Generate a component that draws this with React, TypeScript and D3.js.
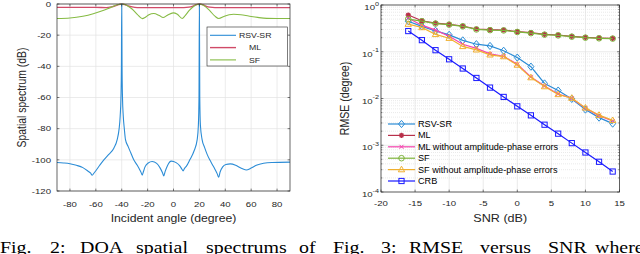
import React from 'react';
import * as d3 from 'd3';

const SX = 1.2;
const SANS = 'Liberation Sans, Arial, Helvetica, sans-serif';
const SERIF = 'Liberation Serif, Times New Roman, serif';

// ---------- Fig. 2 data (spatial spectrum) ----------
const angleTicks = [-80, -60, -40, -20, 0, 20, 40, 60, 80];
const dbTicks = [0, -20, -40, -60, -80, -100, -120];

const rsvAngles = [-90, -85, -80, -75, -70, -66, -64, -62.8, -61.5, -60, -57, -53.8, -50, -46.1, -43.5, -42, -41.2, -40.6, -40.25, -40, -39.75, -39.4, -38.8, -38, -37.1, -35, -33, -30.7, -28, -26, -25, -24.2, -23.2, -22, -19.5, -16.5, -13, -10.5, -8.5, -7.5, -6.5, -4.5, -1.8, 2, 5, 6.5, 7.4, 8.5, 10, 12.6, 16, 18.3, 19.2, 19.7, 20, 20.3, 20.8, 22.1, 24, 26, 28, 30, 32, 33.8, 34.9, 36, 38, 40.5, 43.9, 48, 52, 56.1, 60, 64, 69.6, 76, 90];
const rsvDb = [-101.7, -102, -102.5, -103.5, -105, -107.3, -108.6, -109.9, -108.6, -107, -103.5, -100, -96.5, -92.5, -87, -80, -72, -60, -40, 0, -40, -60, -72, -80, -87, -91.5, -95.5, -100, -103.5, -106.5, -108.2, -109.8, -107.5, -104.5, -102, -101.1, -102.3, -105, -108.3, -110.3, -107.6, -103.4, -100.8, -101.8, -104, -106, -107.1, -105.5, -104, -100, -94, -87, -78, -60, 0, -60, -78, -87, -92, -96.5, -100, -103, -106, -109, -111.2, -107.8, -104.5, -103, -102.6, -103.5, -105.3, -106.5, -105.3, -103.5, -102.2, -101.7, -101.5];

const mlAngles = [-90, -60, -52, -48, -45, -42.5, -40, -37.5, -35, -32, -28, -20, 0, 8, 12, 15, 17.5, 20, 22.5, 25, 28, 32, 60, 90];
const mlDb = [-2.2, -2.2, -2.3, -1.9, -1.2, -0.4, 0, -0.4, -1.2, -1.9, -2.3, -2.3, -2.3, -2.3, -2.0, -1.3, -0.4, 0, -0.4, -1.3, -2.0, -2.3, -2.3, -2.3];

const sfAngles = [-90, -80, -70, -62, -55, -48, -44, -40, -36, -32, -28, -24, -22, -19, -15.2, -11, -8, -5, -0.3, 3, 6.7, 9, 12, 16, 20, 24, 28, 32, 35, 39, 43, 46.5, 52, 58, 65, 72, 80, 90];
const sfDb = [-9.3, -9.0, -7.9, -6.3, -4.4, -2.0, -0.7, 0, -0.9, -3.2, -6.6, -9.4, -8.7, -6.9, -6.1, -7.4, -8.7, -7.4, -5.7, -6.6, -9.3, -7.5, -4.3, -1.3, 0, -1.3, -4.3, -7.8, -9.3, -8.0, -6.9, -6.6, -6.9, -7.7, -8.6, -9.2, -9.3, -9.3];

// ---------- Fig. 3 data (RMSE vs SNR) ----------
const snrTicks = [-20, -15, -10, -5, 0, 5, 10, 15];
const rmseExps = [0, -1, -2, -3, -4];
const snr = [-16, -14, -12, -10, -8, -6, -4, -2, 0, 2, 4, 6, 8, 10, 12, 14];
const rmseRSV = [0.45, 0.35, 0.28, 0.23, 0.175, 0.145, 0.133, 0.105, 0.075, 0.048, 0.021, 0.0148, 0.0098, 0.0058, 0.0039, 0.0029];
const rmseML = [0.61, 0.46, 0.41, 0.385, 0.355, 0.307, 0.296, 0.292, 0.27, 0.256, 0.236, 0.228, 0.214, 0.203, 0.197, 0.194];
const rmseMLw = [0.52, 0.37, 0.29, 0.215, 0.145, 0.118, 0.09, 0.08, 0.054, 0.029, 0.0185, 0.0125, 0.0101, 0.0062, 0.0043, 0.0033];
const rmseSF = [0.5, 0.45, 0.4, 0.38, 0.35, 0.3, 0.29, 0.286, 0.265, 0.25, 0.232, 0.224, 0.21, 0.2, 0.194, 0.191];
const rmseSFw = [0.39, 0.33, 0.235, 0.195, 0.13, 0.11, 0.086, 0.079, 0.052, 0.028, 0.018, 0.0122, 0.0102, 0.0063, 0.0044, 0.0034];
const rmseCRB = [0.277, 0.177, 0.108, 0.069, 0.0438, 0.0275, 0.0171, 0.0108, 0.0068, 0.00436, 0.00275, 0.00177, 0.00111, 0.0007, 0.000443, 0.000274];

const leftLegend = ['RSV-SR', 'ML', 'SF'];
const rightLegend = ['RSV-SR', 'ML', 'ML without amplitude-phase errors', 'SF', 'SF without amplitude-phase errors', 'CRB'];

const captionLeft = ['Fig.', '2:', 'DOA', 'spatial', 'spectrums', 'of'];
const captionRight = ['Fig.', '3:', 'RMSE', 'versus', 'SNR', 'where'];
const captionLeftX = [0, 50, 80, 136, 206, 299];
const captionRightX = [333, 381, 409, 480, 548, 595];

const C_RSV = '#2b8cd6';
const C_ML = '#b8304a';
const C_MLW = '#f545b0';
const C_SF = '#7db33a';
const C_SFW = '#f0b030';
const C_CRB = '#1a1aff';
const AX = '#262626';

type TP = { x: number; y: number; size: number; anchor?: string; rot?: number; family?: string; fill?: string; children: React.ReactNode; dy?: string; sx?: number };
function T({ x, y, size, anchor = 'start', rot, family = SANS, fill = '#262626', children, dy, sx = SX }: TP) {
  return (
    <text
      transform={`translate(${x},${y}) scale(${sx},1)${rot ? ` rotate(${rot})` : ''}`}
      fontSize={size}
      fontFamily={family}
      textAnchor={anchor as any}
      fill={fill}
      dy={dy}
    >
      {children}
    </text>
  );
}

function Marker({ kind, color, x, y }: { kind: string; color: string; x: number; y: number }) {
  const t = `translate(${x},${y})`;
  if (kind === 'diamond') return <path transform={t} d="M0,-3.6L3,0L0,3.6L-3,0Z" fill="none" stroke={color} strokeWidth={1} />;
  if (kind === 'star')
    return (
      <path transform={t} d="M-2.6,0H2.6M0,-2.6V2.6M-1.9,-1.9L1.9,1.9M-1.9,1.9L1.9,-1.9" stroke={color} strokeWidth={1.4} />
    );
  if (kind === 'x') return <path transform={t} d="M-2,-2L2,2M-2,2L2,-2" stroke={color} strokeWidth={1} />;
  if (kind === 'circle') return <circle cx={x} cy={y} r={2.8} fill="none" stroke={color} strokeWidth={1} />;
  if (kind === 'triangle') return <path transform={t} d="M0,-3.4L3.2,2.2L-3.2,2.2Z" fill="none" stroke={color} strokeWidth={1} />;
  return <rect x={x - 2.6} y={y - 2.6} width={5.2} height={5.2} fill="none" stroke={color} strokeWidth={1} />;
}

export default function App() {
  // ---------- left chart ----------
  const L = { x0: 57, x1: 290, y0: 4, y1: 191 };
  const xL = d3.scaleLinear().domain([-90, 90]).range([L.x0, L.x1]);
  const yL = d3.scaleLinear().domain([-120, 0]).range([L.y1, L.y0]);
  const lineL = d3
    .line<[number, number]>()
    .x((d) => xL(d[0]))
    .y((d) => yL(d[1]))
    .curve(d3.curveMonotoneX);
  const zip = (a: number[], b: number[]) => a.map((v, i) => [v, b[i]] as [number, number]);

  // ---------- right chart ----------
  const R = { x0: 381, x1: 619.5, y0: 5, y1: 192 };
  const xR = d3.scaleLinear().domain([-20, 15]).range([R.x0, R.x1]);
  const yR = d3.scaleLog().domain([1e-4, 1]).range([R.y1, R.y0]);
  const lineR = d3
    .line<[number, number]>()
    .x((d) => xR(d[0]))
    .y((d) => yR(d[1]));

  const minorVals: number[] = [];
  for (let e = -4; e < 0; e++) for (let m = 2; m <= 9; m++) minorVals.push(m * Math.pow(10, e));

  const series = [
    { name: rightLegend[0], vals: rmseRSV, color: C_RSV, marker: 'diamond' },
    { name: rightLegend[1], vals: rmseML, color: C_ML, marker: 'star' },
    { name: rightLegend[2], vals: rmseMLw, color: C_MLW, marker: 'x' },
    { name: rightLegend[3], vals: rmseSF, color: C_SF, marker: 'circle' },
    { name: rightLegend[4], vals: rmseSFw, color: C_SFW, marker: 'triangle' },
    { name: rightLegend[5], vals: rmseCRB, color: C_CRB, marker: 'square' },
  ];

  const tk = 2.4;

  return (
    <svg width={640} height={254} style={{ position: 'absolute', left: 0, top: 0, background: '#fff' }}>
      <rect x={0} y={0} width={640} height={254} fill="#fff" />
      {/* ================= LEFT ================= */}
      <g>
        {angleTicks.map((t) => (
          <line key={'gx' + t} x1={xL(t)} x2={xL(t)} y1={L.y0} y2={L.y1} stroke="#e2e2e2" strokeWidth={0.7} />
        ))}
        {dbTicks.map((t) => (
          <line key={'gy' + t} x1={L.x0} x2={L.x1} y1={yL(t)} y2={yL(t)} stroke="#e2e2e2" strokeWidth={0.7} />
        ))}
        <path d={lineL(zip(mlAngles, mlDb)) || ''} fill="none" stroke="#d04a68" strokeWidth={1.3} />
        <path d={lineL(zip(sfAngles, sfDb)) || ''} fill="none" stroke="#86bb44" strokeWidth={1.1} />
        <path d={lineL(zip(rsvAngles, rsvDb)) || ''} fill="none" stroke={C_RSV} strokeWidth={1.1} />
        {/* axes box */}
        <rect x={L.x0} y={L.y0} width={L.x1 - L.x0} height={L.y1 - L.y0} fill="none" stroke={AX} strokeWidth={0.7} />
        {angleTicks.map((t) => (
          <g key={'tx' + t}>
            <line x1={xL(t)} x2={xL(t)} y1={L.y1} y2={L.y1 - tk} stroke={AX} strokeWidth={0.6} />
            <line x1={xL(t)} x2={xL(t)} y1={L.y0} y2={L.y0 + tk} stroke={AX} strokeWidth={0.6} />
            <T x={xL(t)} y={207} size={8} anchor="middle">{String(t)}</T>
          </g>
        ))}
        {dbTicks.map((t) => (
          <g key={'ty' + t}>
            <line x1={L.x0} x2={L.x0 + tk} y1={yL(t)} y2={yL(t)} stroke={AX} strokeWidth={0.6} />
            <line x1={L.x1} x2={L.x1 - tk} y1={yL(t)} y2={yL(t)} stroke={AX} strokeWidth={0.6} />
            <T x={51} y={yL(t)} size={8} anchor="end" dy="0.35em">{String(t)}</T>
          </g>
        ))}
        <T x={(L.x0 + L.x1) / 2} y={222} size={10.2} anchor="middle">Incident angle (degree)</T>
        <T x={26} y={(L.y0 + L.y1) / 2} size={10.4} anchor="middle" rot={-90}>Spatial spectrum (dB)</T>
        {/* legend */}
        <rect x={207} y={27} width={80.5} height={39} fill="#fff" stroke={AX} strokeWidth={0.6} />
        {[
          { c: C_RSV, w: 1.1, tx: 239 },
          { c: '#d04a68', w: 1.4, tx: 249 },
          { c: '#86bb44', w: 1.1, tx: 249 },
        ].map((e, i) => (
          <g key={'ll' + i}>
            <line x1={210} x2={236} y1={35.3 + i * 12.3} y2={35.3 + i * 12.3} stroke={e.c} strokeWidth={e.w} />
            <T x={e.tx} y={35.3 + i * 12.3} size={7.8} sx={1.12} dy="0.35em">{leftLegend[i]}</T>
          </g>
        ))}
      </g>

      {/* ================= RIGHT ================= */}
      <g>
        {minorVals.map((v, i) => (
          <line key={'mg' + i} x1={R.x0} x2={R.x1} y1={yR(v)} y2={yR(v)} stroke="#dcdcdc" strokeWidth={0.6} strokeDasharray="1,1" />
        ))}
        {snrTicks.map((t) => (
          <line key={'gx' + t} x1={xR(t)} x2={xR(t)} y1={R.y0} y2={R.y1} stroke="#e0e0e0" strokeWidth={0.7} />
        ))}
        {rmseExps.map((e) => (
          <line key={'gy' + e} x1={R.x0} x2={R.x1} y1={yR(Math.pow(10, e))} y2={yR(Math.pow(10, e))} stroke="#e0e0e0" strokeWidth={0.7} />
        ))}
        {series.map((s) => (
          <g key={s.name}>
            <path d={lineR(zip(snr, s.vals)) || ''} fill="none" stroke={s.color} strokeWidth={1.2} />
            {snr.map((x, i) => (
              <Marker key={i} kind={s.marker} color={s.color} x={xR(x)} y={yR(s.vals[i])} />
            ))}
          </g>
        ))}
        <rect x={R.x0} y={R.y0} width={R.x1 - R.x0} height={R.y1 - R.y0} fill="none" stroke={AX} strokeWidth={0.7} />
        {snrTicks.map((t) => (
          <g key={'tx' + t}>
            <line x1={xR(t)} x2={xR(t)} y1={R.y1} y2={R.y1 - tk} stroke={AX} strokeWidth={0.6} />
            <line x1={xR(t)} x2={xR(t)} y1={R.y0} y2={R.y0 + tk} stroke={AX} strokeWidth={0.6} />
            <T x={xR(t)} y={206} size={8} anchor="middle">{String(t)}</T>
          </g>
        ))}
        {minorVals.map((v, i) => (
          <g key={'mt' + i}>
            <line x1={R.x0} x2={R.x0 + 1.4} y1={yR(v)} y2={yR(v)} stroke={AX} strokeWidth={0.5} />
            <line x1={R.x1} x2={R.x1 - 1.4} y1={yR(v)} y2={yR(v)} stroke={AX} strokeWidth={0.5} />
          </g>
        ))}
        {rmseExps.map((e) => (
          <g key={'ty' + e}>
            <line x1={R.x0} x2={R.x0 + tk} y1={yR(Math.pow(10, e))} y2={yR(Math.pow(10, e))} stroke={AX} strokeWidth={0.6} />
            <line x1={R.x1} x2={R.x1 - tk} y1={yR(Math.pow(10, e))} y2={yR(Math.pow(10, e))} stroke={AX} strokeWidth={0.6} />
            <text
              transform={`translate(379,${yR(Math.pow(10, e)) + 5}) scale(${SX},1)`}
              fontSize={8}
              fontFamily={SANS}
              textAnchor="end"
              fill={AX}
            >
              <tspan>10</tspan>
              <tspan dy={-4.5} fontSize={6}>{String(e)}</tspan>
            </text>
          </g>
        ))}
        <T x={(R.x0 + R.x1) / 2} y={222} size={10.5} anchor="middle">SNR (dB)</T>
        <T x={349} y={(R.y0 + R.y1) / 2} size={10.6} anchor="middle" rot={-90}>RMSE (degree)</T>
        {/* legend (no box) */}
        {series.map((s, i) => {
          const ly = 124 + i * 11.4;
          return (
            <g key={'rl' + i}>
              <line x1={388} x2={415} y1={ly} y2={ly} stroke={s.color} strokeWidth={1.2} />
              <Marker kind={s.marker} color={s.color} x={401.5} y={ly} />
              <T x={418} y={ly} size={8.3} sx={1.1} dy="0.35em" fill="#000">{s.name}</T>
            </g>
          );
        })}
      </g>

      {/* ================= CAPTIONS ================= */}
      {captionLeft.map((w, i) => (
        <T key={'cl' + i} x={captionLeftX[i]} y={252.5} size={16.6} family={SERIF} fill="#000">{w}</T>
      ))}
      {captionRight.map((w, i) => (
        <T key={'cr' + i} x={captionRightX[i]} y={252.5} size={16.6} family={SERIF} fill="#000">{w}</T>
      ))}
    </svg>
  );
}
